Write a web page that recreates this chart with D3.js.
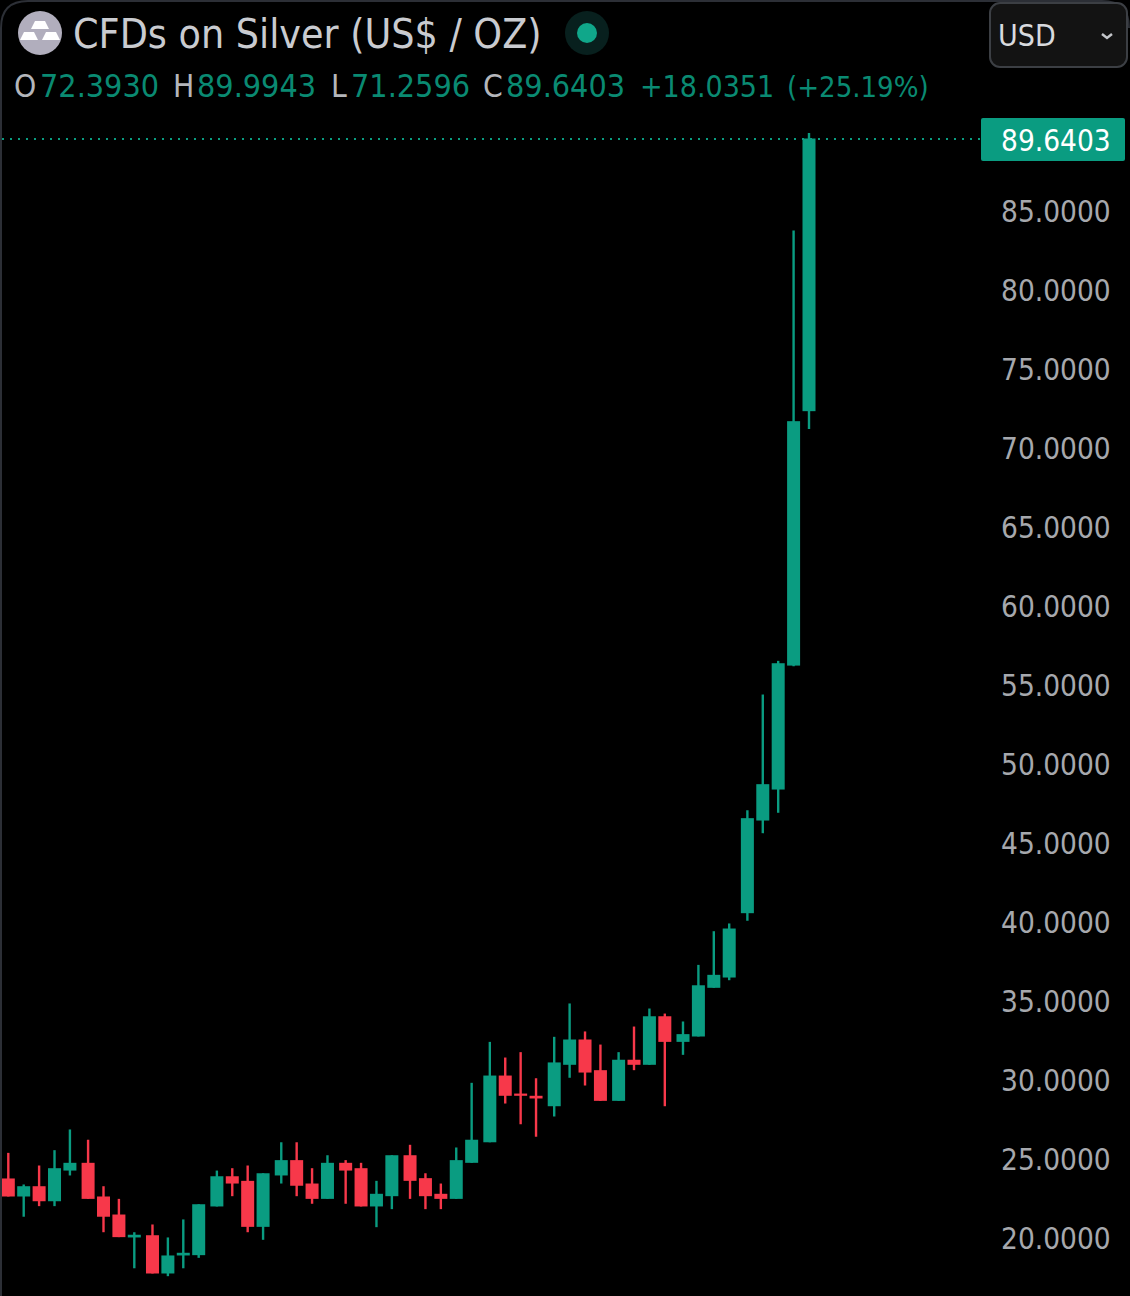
<!DOCTYPE html>
<meta charset="utf-8">
<title>CFDs on Silver</title>

<style>
html, body {
  margin: 0;
  padding: 0;
  background-color: black;
}

svg {
  display: block;
  font-family: 'DejaVu Sans Condensed', 'Open Sans', sans-serif;
}

.axis text {
  font-size: 29.5px;
  font-family: 'DejaVu Sans Condensed', 'Open Sans', sans-serif;
  fill: #a6a8ad;
}

.axis path, .axis line {
  display: none;
}
</style>

<script src="https://cdn.jsdelivr.net/npm/d3@7"></script>

<div id="chart"></div>

<script>
var opens = [23.86, 22.72, 23.37, 22.42, 24.36, 24.85, 22.72, 21.58, 20.13, 20.27,
             17.85, 18.99, 19.01, 22.09, 24.00, 23.71, 20.80, 24.05, 25.02, 23.54,
             22.57, 24.85, 24.51, 22.09, 22.74, 25.33, 23.88, 22.89, 22.57, 24.85,
             26.15, 30.37, 29.23, 29.09, 28.43, 31.05, 32.65, 30.71, 28.77, 31.37,
             31.05, 34.12, 32.50, 32.84, 35.92, 36.57, 40.64, 46.50, 48.46, 56.30,
             72.3930];
var highs = [25.48, 23.48, 24.68, 25.65, 26.96, 26.31, 23.37, 22.57, 20.46, 20.95,
             20.13, 21.27, 22.23, 24.36, 24.51, 24.68, 24.19, 26.15, 26.15, 24.51,
             25.33, 25.02, 24.85, 23.71, 25.33, 25.99, 24.19, 23.54, 25.82, 29.91,
             32.50, 31.51, 31.85, 30.20, 32.82, 34.93, 33.16, 32.33, 31.85, 33.47,
             34.61, 34.29, 33.79, 37.37, 39.50, 39.99, 47.15, 54.47, 56.60, 83.82,
             89.9943];
var lows = [22.72, 21.44, 22.11, 22.11, 24.05, 22.57, 20.46, 20.15, 18.18, 17.85,
            17.68, 18.18, 18.84, 22.09, 22.74, 20.46, 19.98, 23.54, 22.74, 22.26,
            22.57, 22.26, 22.09, 20.78, 21.92, 22.57, 21.92, 21.92, 22.57, 24.85,
            26.15, 28.60, 27.29, 26.50, 27.78, 30.23, 29.74, 28.77, 28.77, 30.71,
            31.05, 28.43, 31.68, 32.84, 35.92, 36.40, 40.16, 45.70, 46.99, 56.26,
            71.2596];
var closes = [22.72, 23.37, 22.42, 24.51, 24.85, 22.57, 21.44, 20.15, 20.30, 17.85,
              18.99, 19.16, 22.23, 24.00, 23.54, 20.80, 24.19, 25.02, 23.40, 22.57,
              24.85, 24.36, 22.09, 22.89, 25.33, 23.71, 22.74, 22.57, 25.02, 26.31,
              30.37, 29.09, 29.09, 28.92, 31.20, 32.65, 30.56, 28.77, 31.37, 31.05,
              34.12, 32.50, 32.99, 36.08, 36.74, 39.67, 46.65, 48.80, 56.45, 71.76,
              89.6403];
// candles that open a new period, the chart leaves a small gap before them
var periodStarts = [5, 9, 13, 17, 21, 25, 30, 34, 38, 42, 46];
var priceTicks = [20, 25, 30, 35, 40, 45, 50, 55, 60, 65, 70, 75, 80, 85];
var ohlcLabels = ["O", "H", "L", "C"];
var ohlcValues = ["72.3930", "89.9943", "71.2596", "89.6403"];
var change = "+18.0351";
var changePct = "(+25.19%)";
var title = "CFDs on Silver (US$ / OZ)";
var currency = "USD";

var width = 1130, height = 1296;
var up = "#0a9c81", down = "#f7384a", upText = "#0a8a72", labelText = "#b4b6bb";
var gap = 0.18, bodyWidth = 13;

var svg = d3.select("#chart").append("svg")
    .attr("width", width)
    .attr("height", height);

// slot number of each candle, counted with the period gaps
function slot(i) {
  return i + gap * periodStarts.filter(function(s) { return s <= i; }).length;
}

var x = d3.scaleLinear()
    .domain([0, slot(closes.length - 1)])
    .range([8.3, 809]);

var y = d3.scaleLinear()
    .domain([20, 85])
    .range([1239.5, 211.85]);

var candles = d3.range(closes.length);

function colour(i) {
  return closes[i] >= opens[i] ? up : down;
}

svg.append("line")
    .attr("x1", 2)
    .attr("x2", 980)
    .attr("y1", Math.round(y(closes[closes.length - 1])) + 1)
    .attr("y2", Math.round(y(closes[closes.length - 1])) + 1)
    .attr("stroke", up)
    .attr("stroke-width", 2)
    .attr("stroke-dasharray", "2 6");

svg.selectAll(".wick").data(candles).enter().append("line")
    .attr("class", "wick")
    .attr("x1", function(i) { return x(slot(i)); })
    .attr("x2", function(i) { return x(slot(i)); })
    .attr("y1", function(i) { return y(highs[i]); })
    .attr("y2", function(i) { return y(lows[i]); })
    .attr("stroke", colour)
    .attr("stroke-width", 2.4);

svg.selectAll(".body").data(candles).enter().append("rect")
    .attr("class", "body")
    .attr("x", function(i) { return x(slot(i)) - bodyWidth / 2; })
    .attr("width", bodyWidth)
    .attr("y", function(i) { return y(Math.max(opens[i], closes[i])); })
    .attr("height", function(i) { return Math.abs(y(opens[i]) - y(closes[i])); })
    .attr("fill", colour);

// price axis
svg.append("g")
    .attr("class", "axis")
    .attr("transform", "translate(1001,0)")
    .call(d3.axisRight(y)
      .tickValues(priceTicks)
      .tickFormat(d3.format(".4f"))
      .tickSize(0)
      .tickPadding(0))
    .selectAll("text")
    .attr("x", 0);

// last price tag
svg.append("rect")
    .attr("x", 981)
    .attr("y", 118)
    .attr("width", 144)
    .attr("height", 43)
    .attr("rx", 2)
    .attr("fill", up);
svg.append("text")
    .attr("x", 1001)
    .attr("y", 151)
    .attr("font-size", 29.5)
    .attr("fill", "#ffffff")
    .text(d3.format(".4f")(closes[closes.length - 1]));

// frame with the rounded corners
svg.append("path")
    .attr("d", "M1,1296V28Q1,1 28,1H1102Q1129,1 1129,28")
    .attr("fill", "none")
    .attr("stroke", "#2c2f36")
    .attr("stroke-width", 2);

// header
var icon = svg.append("g").attr("transform", "translate(40,33)");
icon.append("circle").attr("r", 22).attr("fill", "#b1aebd");
[[-11, 4], [11, 4], [0, -7]].forEach(function(p) {
  icon.append("path")
      .attr("d", "M" + (p[0] - 5) + "," + (p[1] - 5) + "h10l4,8h-18z")
      .attr("fill", "#ffffff");
});

svg.append("text")
    .attr("x", 73)
    .attr("y", 48)
    .attr("font-size", 40.7)
    .attr("fill", "#c9cbd0")
    .text(title);

svg.append("circle").attr("cx", 587).attr("cy", 33).attr("r", 22).attr("fill", "#08201e");
svg.append("circle").attr("cx", 587).attr("cy", 33).attr("r", 10).attr("fill", "#10a78a");

var labelX = [14, 173, 331, 483], valueX = [40, 197, 351, 506];
ohlcLabels.forEach(function(label, i) {
  svg.append("text")
      .attr("x", labelX[i])
      .attr("y", 97)
      .attr("font-size", 31.5)
      .attr("fill", labelText)
      .text(label);
  svg.append("text")
      .attr("x", valueX[i])
      .attr("y", 97)
      .attr("font-size", 32)
      .attr("fill", upText)
      .text(ohlcValues[i]);
});
svg.append("text")
    .attr("x", 640)
    .attr("y", 97)
    .attr("font-size", 30)
    .attr("fill", upText)
    .text(change);
svg.append("text")
    .attr("x", 787)
    .attr("y", 97)
    .attr("font-size", 29)
    .attr("fill", upText)
    .text(changePct);

// currency button
svg.append("rect")
    .attr("x", 990)
    .attr("y", 3)
    .attr("width", 137)
    .attr("height", 64)
    .attr("rx", 10)
    .attr("fill", "#131313")
    .attr("stroke", "#3c3f44")
    .attr("stroke-width", 2);
svg.append("text")
    .attr("x", 998)
    .attr("y", 46)
    .attr("font-size", 30)
    .attr("fill", "#d8dade")
    .text(currency);
svg.append("path")
    .attr("d", "M1102,34l5,4l5,-4")
    .attr("fill", "none")
    .attr("stroke", "#c4c6ca")
    .attr("stroke-width", 2.5);
</script>
